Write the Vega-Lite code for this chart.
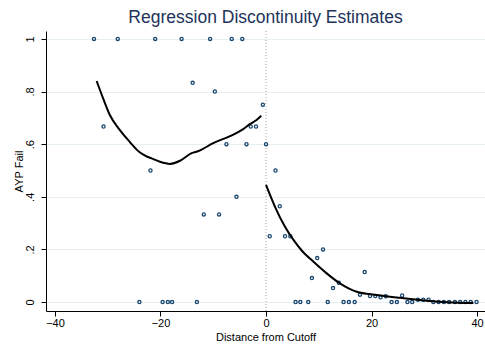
{
  "$schema": "https://vega.github.io/schema/vega-lite/v6.json",
  "width": 439,
  "height": 280,
  "autosize": {"type": "none"},
  "padding": {"left": 46, "top": 31, "right": 0, "bottom": 36},
  "background": "white",
  "title": {"text": "Regression Discontinuity Estimates", "fontSize": 17.5, "font": "Liberation Sans", "fontWeight": "normal", "color": "#22335a", "anchor": "middle", "frame": "group", "offset": 4},
  "config": {
    "view": {"stroke": null},
    "font": "Liberation Sans",
    "axis": {"labelFont": "Liberation Sans", "titleFont": "Liberation Sans", "labelFontSize": 11, "titleFontSize": 11, "titleFontWeight": "normal", "labelColor": "#000", "titleColor": "#000", "domainColor": "#000", "tickColor": "#000", "tickSize": 5, "domainWidth": 1, "tickWidth": 1}
  },
  "datasets": {
    "pts": [
      {"x": -32.6, "y": 1}, {"x": -28.1, "y": 1}, {"x": -21.0, "y": 1}, {"x": -16.0, "y": 1}, {"x": -10.6, "y": 1}, {"x": -6.5, "y": 1}, {"x": -4.5, "y": 1},
      {"x": -13.9, "y": 0.833}, {"x": -9.7, "y": 0.8}, {"x": -0.6, "y": 0.75}, {"x": -30.8, "y": 0.667}, {"x": -2.9, "y": 0.667}, {"x": -1.9, "y": 0.667},
      {"x": -7.5, "y": 0.6}, {"x": -3.7, "y": 0.6}, {"x": 0.0, "y": 0.6},
      {"x": -21.9, "y": 0.5}, {"x": -5.6, "y": 0.4}, {"x": -11.8, "y": 0.333}, {"x": -8.9, "y": 0.333},
      {"x": -24.0, "y": 0}, {"x": -19.6, "y": 0}, {"x": -18.6, "y": 0}, {"x": -17.8, "y": 0}, {"x": -13.1, "y": 0},
      {"x": 1.8, "y": 0.5}, {"x": 2.6, "y": 0.364}, {"x": 0.7, "y": 0.25}, {"x": 3.6, "y": 0.25}, {"x": 4.6, "y": 0.25},
      {"x": 10.8, "y": 0.2}, {"x": 9.7, "y": 0.167}, {"x": 8.7, "y": 0.091}, {"x": 12.7, "y": 0.053}, {"x": 13.8, "y": 0.073},
      {"x": 18.7, "y": 0.114}, {"x": 17.8, "y": 0.028}, {"x": 19.7, "y": 0.023}, {"x": 20.7, "y": 0.023}, {"x": 21.7, "y": 0.018},
      {"x": 22.7, "y": 0.022}, {"x": 25.8, "y": 0.025}, {"x": 28.8, "y": 0.009}, {"x": 29.8, "y": 0.009}, {"x": 30.8, "y": 0.009},
      {"x": 5.6, "y": 0}, {"x": 6.5, "y": 0}, {"x": 8.0, "y": 0}, {"x": 11.7, "y": 0}, {"x": 14.7, "y": 0}, {"x": 15.7, "y": 0},
      {"x": 16.8, "y": 0}, {"x": 23.8, "y": 0}, {"x": 24.8, "y": 0}, {"x": 26.8, "y": 0}, {"x": 27.7, "y": 0},
      {"x": 31.7, "y": 0}, {"x": 32.7, "y": 0}, {"x": 33.7, "y": 0}, {"x": 34.7, "y": 0}, {"x": 35.8, "y": 0},
      {"x": 36.8, "y": 0}, {"x": 37.8, "y": 0}, {"x": 38.8, "y": 0}, {"x": 39.9, "y": 0}
    ],
    "fit": [
      {"seg": "L", "x": -32.1, "y": 0.840}, {"seg": "L", "x": -30.8, "y": 0.770}, {"seg": "L", "x": -29.6, "y": 0.711},
      {"seg": "L", "x": -27.8, "y": 0.656}, {"seg": "L", "x": -25.8, "y": 0.608}, {"seg": "L", "x": -24.0, "y": 0.570},
      {"seg": "L", "x": -22.6, "y": 0.553}, {"seg": "L", "x": -21.7, "y": 0.546}, {"seg": "L", "x": -20.1, "y": 0.533},
      {"seg": "L", "x": -18.2, "y": 0.525}, {"seg": "L", "x": -16.3, "y": 0.537}, {"seg": "L", "x": -14.1, "y": 0.566},
      {"seg": "L", "x": -12.8, "y": 0.574}, {"seg": "L", "x": -10.0, "y": 0.604}, {"seg": "L", "x": -6.2, "y": 0.636},
      {"seg": "L", "x": -4.4, "y": 0.656}, {"seg": "L", "x": -3.0, "y": 0.677}, {"seg": "L", "x": -1.8, "y": 0.692},
      {"seg": "L", "x": -0.9, "y": 0.708},
      {"seg": "R", "x": 0.0, "y": 0.445}, {"seg": "R", "x": 1.7, "y": 0.362}, {"seg": "R", "x": 3.6, "y": 0.286},
      {"seg": "R", "x": 5.2, "y": 0.236}, {"seg": "R", "x": 6.8, "y": 0.195}, {"seg": "R", "x": 9.0, "y": 0.153},
      {"seg": "R", "x": 11.5, "y": 0.109}, {"seg": "R", "x": 14.0, "y": 0.071}, {"seg": "R", "x": 17.2, "y": 0.039},
      {"seg": "R", "x": 21.0, "y": 0.027}, {"seg": "R", "x": 25.4, "y": 0.016}, {"seg": "R", "x": 30.5, "y": 0.005},
      {"seg": "R", "x": 34.3, "y": -0.001}, {"seg": "R", "x": 39.3, "y": -0.004}
    ],
    "cut": [{"x": 0}]
  },
  "layer": [
    {
      "data": {"name": "cut"},
      "mark": {"type": "rule", "color": "#a8a8a8", "strokeDash": [1, 2], "strokeWidth": 1},
      "encoding": {"x": {"field": "x", "type": "quantitative", "scale": {"domain": [-41.7, 41.5], "nice": false, "zero": false}}}
    },
    {
      "data": {"name": "pts"},
      "mark": {"type": "point", "shape": "circle", "filled": false, "color": "#1a476f", "size": 10, "strokeWidth": 1.3, "opacity": 1},
      "encoding": {
        "x": {"field": "x", "type": "quantitative", "scale": {"domain": [-41.7, 41.5], "nice": false, "zero": false},
          "axis": {"title": "Distance from Cutoff", "values": [-40, -20, 0, 20, 40], "grid": false, "labelPadding": 1, "titlePadding": 3}},
        "y": {"field": "y", "type": "quantitative", "scale": {"domain": [-0.034, 1.03], "nice": false, "zero": false},
          "axis": {"title": "AYP Fail", "values": [0, 0.2, 0.4, 0.6, 0.8, 1], "grid": true, "gridColor": "#e6eff0", "gridWidth": 1,
            "labelAngle": 270, "labelAlign": "center", "labelBaseline": "bottom", "labelPadding": 6, "titlePadding": 0,
            "labelExpr": "datum.value == 0 ? '0' : datum.value == 1 ? '1' : replace(format(datum.value, '.1f'), '0.', '.')"}}
      }
    },
    {
      "data": {"name": "fit"},
      "mark": {"type": "line", "color": "#000", "strokeWidth": 2, "interpolate": "monotone"},
      "encoding": {
        "x": {"field": "x", "type": "quantitative"},
        "y": {"field": "y", "type": "quantitative"},
        "detail": {"field": "seg", "type": "nominal"}
      }
    }
  ]
}
